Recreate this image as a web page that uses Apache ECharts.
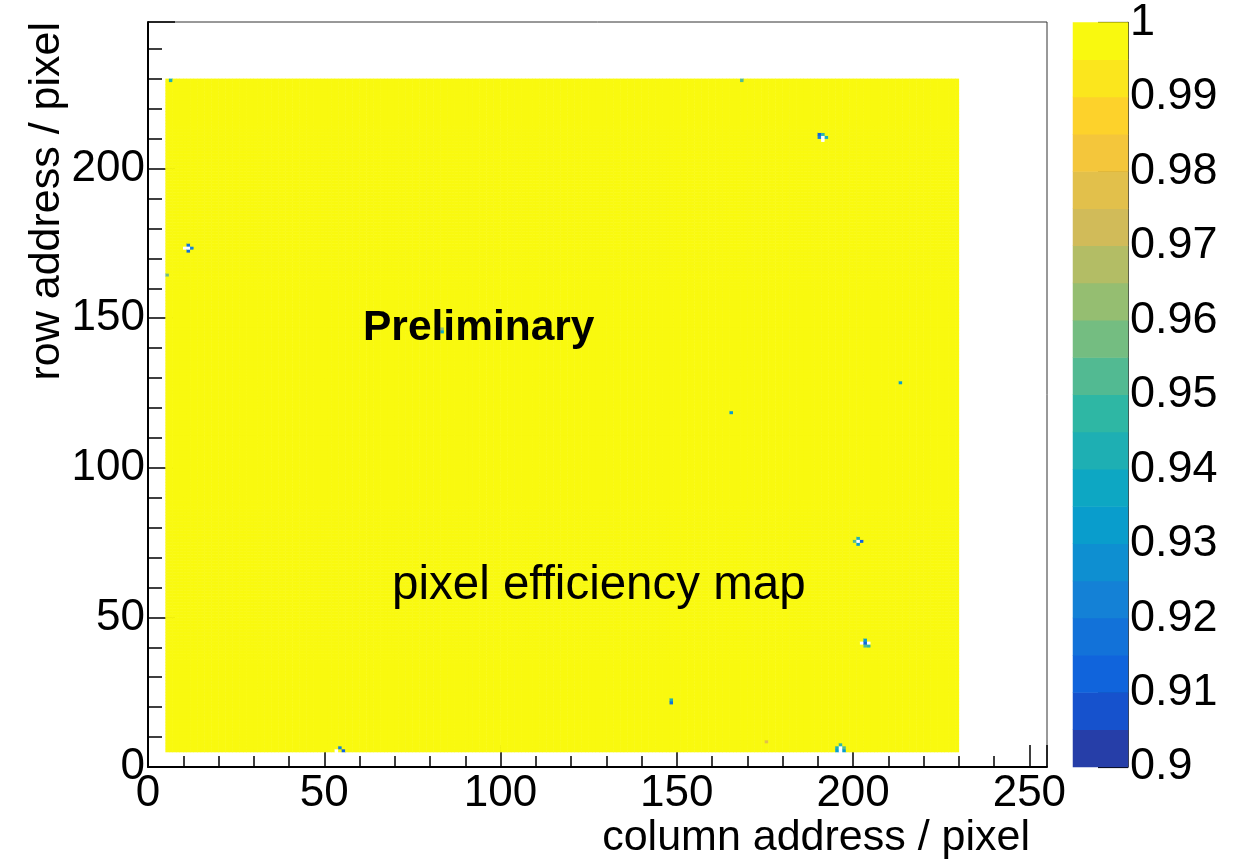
<!DOCTYPE html>
<html>
<head>
<meta charset="utf-8">
<script src="https://cdn.jsdelivr.net/npm/echarts@6/dist/echarts.min.js"></script>
<style>
  html, body { margin: 0; padding: 0; background: #fff; }
  #chart { width: 1234px; height: 861px; }
</style>
</head>
<body>
<div id="chart"></div>
<script>
// axis ranges (histogram frame)
const xRange = [0, 255];
const yRange = [0, 249];
// active pixel matrix (first / last bin)
const colFirst = 5, colLast = 229;
const rowFirst = 5, rowLast = 229;
// most pixels are fully efficient
const baseEff = 1.0;

// pixels that differ from the base value (values < 0.9 are not painted)
const defectCol = [6, 168, 190, 191, 190, 191, 192, 191, 10, 11, 11, 12, 11, 5,
  201, 200, 201, 202, 201, 203, 202, 203, 204, 203, 204, 53, 54, 55,
  148, 148, 175, 196, 195, 197, 196, 196, 195, 197, 83, 83, 165, 213];
const defectRow = [229, 229, 211, 211, 210, 210, 210, 209, 173, 173, 174, 173, 172, 164,
  76, 75, 75, 75, 74, 42, 41, 41, 41, 40, 40, 5, 6, 5,
  21, 22, 8, 7, 6, 6, 6, 5, 5, 5, 145, 146, 118, 128];
const defectEff = [0.943, 0.95, 0.91, 0.945, 0.92, 0.5, 0.94, 0.5, 0.5, 0.5, 0.915, 0.92, 0.915, 0.955,
  0.94, 0.95, 0.5, 0.91, 0.93, 0.93, 0.5, 0.91, 0.5, 0.95, 0.945, 0.5, 0.92, 0.91,
  0.915, 0.94, 0.975, 0.945, 0.94, 0.95, 0.5, 0.5, 0.93, 0.93, 0.935, 0.96, 0.93, 0.93];

// colour scale
const zMin = 0.9, zMax = 1.0, zStep = 0.005;
const bandColors = ['#263ea8', '#1652cd', '#1064dc', '#1272d9', '#1481d6', '#0e8fd1',
  '#099dcc', '#0da7c3', '#1eafb3', '#2eb7a4', '#52ba92', '#74bd81', '#95be71',
  '#b3bd65', '#d1bb59', '#e2c04b', '#f4c63b', '#fdd22b', '#fbe61d', '#f9f90f'];

const FONT = 'Liberation Sans';

var defects = {};
defectCol.forEach(function (c, i) {
  defects[c + '_' + defectRow[i]] = defectEff[i];
});
var mapData = [];
for (var c = colFirst; c <= colLast; c++) {
  for (var r = rowFirst; r <= rowLast; r++) {
    var k = c + '_' + r;
    mapData.push([c, r, k in defects ? defects[k] : baseEff]);
  }
}
var xBins = [], yBins = [];
for (var i = xRange[0]; i < xRange[1]; i++) xBins.push(String(i));
for (var j = yRange[0]; j < yRange[1]; j++) yBins.push(String(j));

var pieces = [], barCats = [], barData = [];
bandColors.forEach(function (col, i) {
  var lo = +(zMin + i * zStep).toFixed(4);
  var hi = +(zMin + (i + 1) * zStep).toFixed(4);
  var p = { gte: lo, color: col };
  if (i === bandColors.length - 1) p.lte = hi + 1e-6; else p.lt = hi;
  pieces.push(p);
  barCats.push(String(i));
  barData.push([0, i, +(lo + zStep / 2).toFixed(5)]);
});

var chart = echarts.init(document.getElementById('chart'));
chart.setOption({
  animation: false,
  textStyle: { fontFamily: FONT },
  grid: [
    { left: 148, top: 22, width: 899, height: 745, show: true, borderColor: '#333', borderWidth: 1 },
    { left: 1073, top: 22, width: 55, height: 745 }
  ],
  visualMap: {
    type: 'piecewise',
    show: false,
    dimension: 2,
    seriesIndex: [0, 1],
    pieces: pieces,
    outOfRange: { color: '#ffffff' }
  },
  xAxis: [
    {
      type: 'value', gridIndex: 0, min: xRange[0], max: xRange[1], interval: 50,
      axisLine: { lineStyle: { color: '#000', width: 2 } },
      axisTick: { inside: true, length: 22, lineStyle: { color: '#000', width: 1.5 } },
      minorTick: { show: true, splitNumber: 5, length: 11, lineStyle: { color: '#000', width: 1.5 } },
      splitLine: { show: false },
      axisLabel: { fontSize: 44, color: '#000', margin: 5, fontFamily: FONT,
        showMaxLabel: false, showMinLabel: true }
    },
    { type: 'category', gridIndex: 0, data: xBins, show: false, boundaryGap: true },
    { type: 'category', gridIndex: 1, data: ['z'], show: false }
  ],
  yAxis: [
    {
      type: 'value', gridIndex: 0, min: yRange[0], max: yRange[1], interval: 50,
      axisLine: { lineStyle: { color: '#000', width: 2 } },
      axisTick: { inside: true, length: 27, lineStyle: { color: '#000', width: 1.5 } },
      minorTick: { show: true, splitNumber: 5, length: 14, lineStyle: { color: '#000', width: 1.5 } },
      splitLine: { show: false },
      axisLabel: { fontSize: 44, color: '#000', margin: 3, fontFamily: FONT, showMaxLabel: false }
    },
    { type: 'category', gridIndex: 0, data: yBins, show: false, boundaryGap: true },
    { type: 'category', gridIndex: 1, data: barCats, show: false },
    {
      type: 'value', gridIndex: 1, min: zMin, max: zMax, interval: 0.01, position: 'right',
      axisLine: { show: true, lineStyle: { color: '#000', width: 1.5 } },
      axisTick: { show: true, inside: true, length: 30, lineStyle: { color: '#000', width: 1.2 } },
      splitLine: { show: false },
      axisLabel: { fontSize: 45, color: '#000', margin: 2, fontFamily: FONT }
    }
  ],
  series: [
    {
      type: 'heatmap', xAxisIndex: 1, yAxisIndex: 1, data: mapData,
      progressive: 0, emphasis: { disabled: true }, itemStyle: { borderWidth: 0 }
    },
    {
      type: 'heatmap', xAxisIndex: 2, yAxisIndex: 2, data: barData,
      progressive: 0, emphasis: { disabled: true }, itemStyle: { borderWidth: 0 }
    }
  ],
  graphic: [
    { type: 'text', x: 1030, y: 838, style: { text: 'column address / pixel', font: '43px "Liberation Sans"',
      fill: '#000', align: 'right', verticalAlign: 'middle' } },
    { type: 'text', x: 47, y: 22, rotation: Math.PI / 2, style: { text: 'row address / pixel',
      font: '43px "Liberation Sans"', fill: '#000', align: 'right', verticalAlign: 'middle' } },
    { type: 'text', x: 363, y: 328, z: 100, style: { text: 'Preliminary', font: 'bold 42.5px "Liberation Sans"',
      fill: '#000', align: 'left', verticalAlign: 'middle' } },
    { type: 'text', x: 392, y: 586, z: 100, style: { text: 'pixel efficiency map', font: '47.5px "Liberation Sans"',
      fill: '#000', align: 'left', verticalAlign: 'middle' } }
  ]
});
</script>
</body>
</html>
